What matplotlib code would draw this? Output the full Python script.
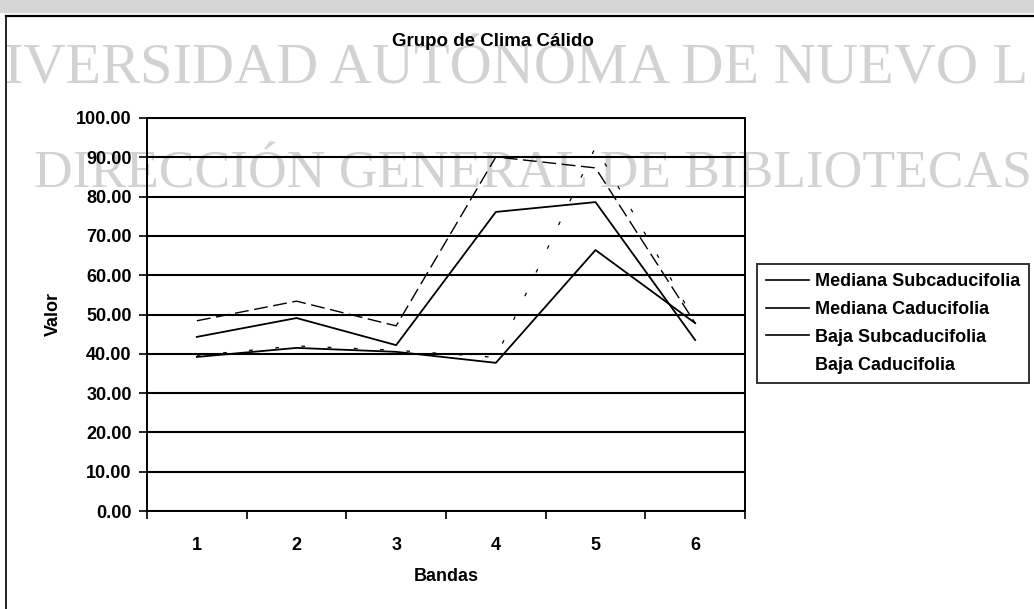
import numpy as np
import matplotlib.pyplot as plt
from matplotlib.lines import Line2D

# Datos por banda
bandas = [1, 2, 3, 4, 5, 6]
mediana_subcaducifolia = [48.4, 53.4, 47.1, 90.1, 87.3, 47.8]
mediana_caducifolia = [44.3, 49.1, 42.2, 76.1, 78.6, 43.5]
baja_subcaducifolia = [39.2, 41.5, 40.5, 37.7, 66.4, 47.8]
baja_caducifolia = [39.6, 42.0, 40.9, 39.1, 92.6, 48.3]

etiquetas = ["Mediana Subcaducifolia", "Mediana Caducifolia",
             "Baja Subcaducifolia", "Baja Caducifolia"]

W, H = 1034, 609
plt.rcParams["font.family"] = ["Liberation Sans", "DejaVu Sans"]
fig = plt.figure(figsize=(W / 100, H / 100), dpi=100)
fig.patch.set_facecolor("white")

def fx(px):
    return px / W

def fy(py):
    return 1 - py / H

# Franja gris superior y borde del area del grafico
fig.patches.append(plt.Rectangle((0, fy(12)), 1, 12 / H, transform=fig.transFigure,
                                 color="#d6d6d6", zorder=-2))
fig.lines.append(Line2D([fx(6), 1], [fy(16), fy(16)], transform=fig.transFigure,
                        color="black", lw=1.6))
fig.lines.append(Line2D([fx(6), fx(6)], [fy(16), 0], transform=fig.transFigure,
                        color="black", lw=1.2))

# Marca de agua, por debajo de los ejes
wm = dict(family="Liberation Serif", color="#d2d2d2", zorder=-1, va="baseline")
fig.text(fx(4), fy(83), "IVERSIDAD AUTÓNOMA DE NUEVO L", fontsize=42, **wm)
fig.text(fx(34), fy(187), "DIRECCIÓN GENERAL DE BIBLIOTECAS", fontsize=38.5, **wm)

ax = fig.add_axes([fx(147), fy(511), fx(745) - fx(147), (511 - 118) / H])
ax.set_facecolor("none")

# Series
ax.plot(bandas, mediana_subcaducifolia, color="black", lw=1.0, ls=(0, (10, 4)), zorder=4)
ax.plot(bandas, mediana_caducifolia, color="black", lw=1.3, zorder=4)
ax.plot(bandas, baja_subcaducifolia, color="black", lw=1.3, zorder=4)
ax.plot(bandas, baja_caducifolia, color="black", lw=0.9, ls=(0, (3, 18)), zorder=4)

ax.set_xlim(0.5, 6.5)
ax.set_ylim(0, 100)
ax.set_yticks(np.arange(0, 101, 10))
ax.set_yticklabels([f"{v:.2f}" for v in np.arange(0, 101, 10)])
ax.yaxis.grid(True, color="black", lw=1.5)
ax.set_axisbelow(True)

# Marcas entre categorias, etiquetas en el centro
ax.set_xticks(np.arange(0.5, 7, 1))
ax.set_xticklabels([])
ax.set_xticks(bandas, minor=True)
ax.set_xticklabels([str(b) for b in bandas], minor=True)
ax.tick_params(axis="x", which="minor", length=0, pad=19)
ax.tick_params(axis="x", which="major", length=6, width=1.2, direction="out")
ax.tick_params(axis="y", length=6, width=1.2, direction="out", pad=5)
for lab in ax.get_yticklabels() + ax.get_xticklabels(minor=True):
    lab.set_fontweight("bold")
    lab.set_fontsize(13)

for s in ax.spines.values():
    s.set_color("black")
    s.set_linewidth(1.4)

ax.set_xlabel("Bandas", fontsize=13, fontweight="bold", labelpad=10)
ax.set_ylabel("Valor", fontsize=13, fontweight="bold", labelpad=10)

fig.text(fx(493), fy(42), "Grupo de Clima Cálido", fontsize=13.5, fontweight="bold",
         ha="center", va="center", zorder=5)

# Leyenda (la ultima serie no muestra muestra de linea)
handles = [Line2D([], [], color="black", lw=1.2) for _ in range(3)]
handles.append(Line2D([], [], color="none"))
leg = fig.legend(handles, etiquetas, loc="upper left",
                 bbox_to_anchor=(fx(757), fy(264)), frameon=True, fancybox=False,
                 edgecolor="black", fontsize=13, handlelength=2.4, handletextpad=0.3,
                 borderpad=0.5, labelspacing=0.6, borderaxespad=0)
leg.get_frame().set_linewidth(1.4)
for t in leg.get_texts():
    t.set_fontweight("bold")

fig.savefig("out.png", dpi=100)
